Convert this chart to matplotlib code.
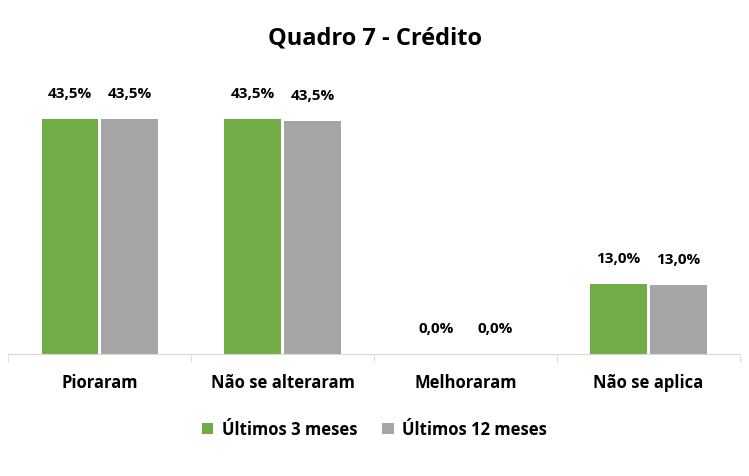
import matplotlib.pyplot as plt
import numpy as np

categories = ['Pioraram', 'Não se alteraram', 'Melhoraram', 'Não se aplica']
ultimos_3 = [43.5, 43.5, 0.0, 13.0]
ultimos_12 = [43.5, 43.1, 0.0, 12.8]
labels_3 = ['43,5%', '43,5%', '0,0%', '13,0%']
labels_12 = ['43,5%', '43,5%', '0,0%', '13,0%']

plt.rcParams['font.family'] = ['Open Sans', 'DejaVu Sans']
plt.rcParams['font.weight'] = 'bold'

fig = plt.figure(figsize=(7.49, 4.77), dpi=100)
ax = fig.add_axes([0.011, 0.256, 0.977, 0.577])

x = np.arange(len(categories))
w = 0.31
gap = 0.008
b1 = ax.bar(x - w / 2 - gap, ultimos_3, w, color='#70AD47', label='Últimos 3 meses')
b2 = ax.bar(x + w / 2 + gap, ultimos_12, w, color='#A5A5A5', label='Últimos 12 meses')

for bars, labs in ((b1, labels_3), (b2, labels_12)):
    for r, t in zip(bars, labs):
        ax.text(r.get_x() + r.get_width() / 2, r.get_height() + 3.5, t,
                ha='center', va='bottom', fontsize=11, fontweight='bold')

ax.set_xlim(-0.5, 3.5)
ax.set_ylim(0, 51)
ax.set_yticks([])
for s in ('top', 'right', 'left'):
    ax.spines[s].set_visible(False)
ax.spines['bottom'].set_color('#D9D9D9')
ax.set_xticks(np.arange(-0.5, 4, 1), minor=True)
ax.set_xticks(x)
ax.set_xticklabels(categories, fontsize=12, fontweight='bold')
ax.tick_params(axis='x', which='major', length=0, pad=14)
ax.tick_params(axis='x', which='minor', length=6, color='#D9D9D9')

fig.text(0.5, 0.92, 'Quadro 7 - Crédito', ha='center', va='center',
         fontsize=17, fontweight='bold')
fig.legend(handles=[b1, b2], loc='center', bbox_to_anchor=(0.5, 0.098), ncol=2,
           frameon=False, fontsize=12, handlelength=0.7, handleheight=0.7,
           columnspacing=1.5, handletextpad=0.5)

fig.savefig('out.png', dpi=100)
